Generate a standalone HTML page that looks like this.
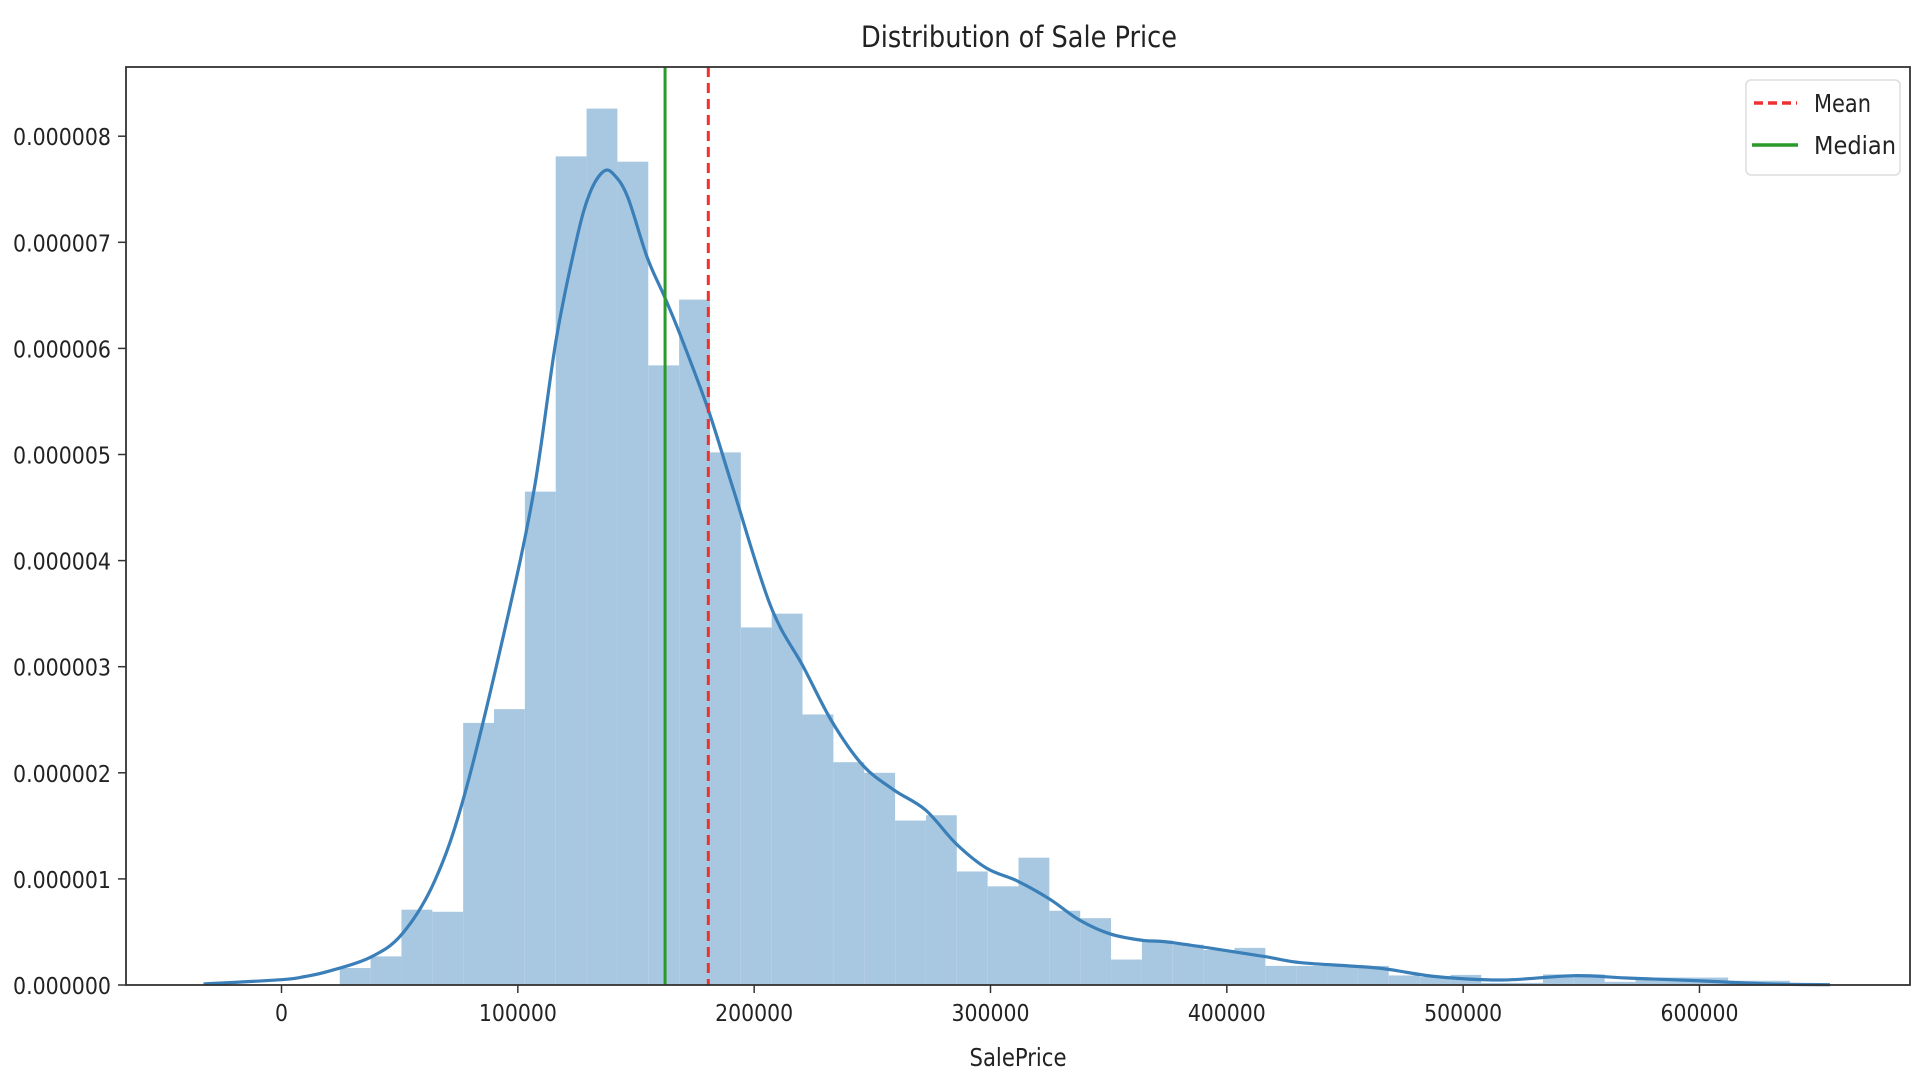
<!DOCTYPE html>
<html><head><meta charset="utf-8"><style>
html,body{margin:0;padding:0;background:#fff;}
svg{display:block;}
text{font-family:"Liberation Sans Narrow","DejaVu Sans Condensed","Liberation Sans",sans-serif;fill:#222;}
</style></head><body>
<svg id="chart" width="1920" height="1080" viewBox="0 0 1920 1080" xmlns="http://www.w3.org/2000/svg">
<rect width="1920" height="1080" fill="#fff"/>
<g id="bars"></g>
<g id="kde"></g>
<g id="refs"></g>
<g id="axes"></g>
<text x="1019" y="47" text-anchor="middle" font-size="29" textLength="316" lengthAdjust="spacingAndGlyphs">Distribution of Sale Price</text>
<text x="1018" y="1066" text-anchor="middle" font-size="25" textLength="97" lengthAdjust="spacingAndGlyphs">SalePrice</text>
<g>
<rect x="1746" y="80" width="154" height="95" rx="5" fill="#fff" stroke="#ddd" stroke-width="1.5"/>
<line x1="1754" y1="103" x2="1797" y2="103" stroke="#f03030" stroke-width="3.5" stroke-dasharray="9,5"/>
<text x="1814" y="112" font-size="25" textLength="57" lengthAdjust="spacingAndGlyphs">Mean</text>
<line x1="1752" y1="145" x2="1798" y2="145" stroke="#2a9a2a" stroke-width="3.5"/>
<text x="1814" y="154" font-size="25" textLength="82" lengthAdjust="spacingAndGlyphs">Median</text>
</g>
</svg>
<script>
const binStart = 24645;
const binWidth = 13055;
const binDensities = [0.16,0.27,0.71,0.69,2.47,2.6,4.65,7.81,8.26,7.76,5.84,6.46,5.02,3.37,3.5,2.55,2.1,2.0,1.55,1.6,1.07,0.93,1.2,0.7,0.63,0.24,0.42,0.38,0.33,0.35,0.18,0.18,0.18,0.18,0.09,0.075,0.095,0.02,0.02,0.1,0.1,0.03,0.07,0.07,0.07,0.04,0.04];
const kdeX = [-33000,0,10000,20000,37500,51000,64800,77530,95000,106900,116200,124800,130400,136400,141000,146600,154700,162000,168500,180600,191200,207000,220800,233000,246000,259000,272500,285500,298400,311400,325000,337800,350800,364600,376900,415400,431500,463800,488200,516500,546800,569000,599400,630000,655200];
const kdeY = [0.01,0.05,0.08,0.13,0.26,0.48,0.98,1.8,3.4,4.67,6.08,7.02,7.46,7.67,7.63,7.42,6.86,6.49,6.14,5.42,4.67,3.57,3.0,2.48,2.07,1.84,1.65,1.33,1.1,0.98,0.81,0.61,0.48,0.42,0.40,0.27,0.21,0.16,0.08,0.047,0.088,0.066,0.04,0.01,0.003];
const meanValue = 180600;
const medianValue = 162300;
const xTicks = [0,100000,200000,300000,400000,500000,600000];
const yTicks = [0,1,2,3,4,5,6,7,8];
const yTickLabels = ["0.000000","0.000001","0.000002","0.000003","0.000004","0.000005","0.000006","0.000007","0.000008"];

const NS = "http://www.w3.org/2000/svg";
const L=126,R=1910,T=67,B=985;
function xs(v){return 281.5 + v*0.0023633;}
function ys(d){return B - d*106.1;}
function mk(tag,attrs,parent){const e=document.createElementNS(NS,tag);for(const k in attrs)e.setAttribute(k,attrs[k]);parent.appendChild(e);return e;}

const gb=document.getElementById('bars');
binDensities.forEach((d,i)=>{
  const x0=xs(binStart+i*binWidth), x1=xs(binStart+(i+1)*binWidth);
  const r=mk('rect',{x:x0,y:ys(d),width:x1-x0,height:B-ys(d),fill:'#a8c8e1'},gb);
  
  
});
const gk=document.getElementById('kde');
const pts=kdeX.map((x,i)=>[xs(x),ys(kdeY[i])]);
let dstr='M'+pts[0][0]+','+pts[0][1];
for(let i=0;i<pts.length-1;i++){
  const p0=pts[Math.max(0,i-1)],p1=pts[i],p2=pts[i+1],p3=pts[Math.min(pts.length-1,i+2)];
  const c1=[p1[0]+(p2[0]-p0[0])/6,p1[1]+(p2[1]-p0[1])/6];
  const c2=[p2[0]-(p3[0]-p1[0])/6,p2[1]-(p3[1]-p1[1])/6];
  dstr+=' C'+c1[0]+','+c1[1]+' '+c2[0]+','+c2[1]+' '+p2[0]+','+p2[1];
}
const kp=mk('path',{d:dstr,fill:'none',stroke:'#3a7fb8','stroke-width':3.2},gk);



const gr=document.getElementById('refs');
const ml=mk('line',{x1:xs(medianValue),x2:xs(medianValue),y1:T,y2:B,stroke:'#2a9a2a','stroke-width':3},gr);


const mn=mk('line',{x1:xs(meanValue),x2:xs(meanValue),y1:T,y2:B,stroke:'#f03030','stroke-width':3,'stroke-dasharray':'10,6'},gr);



const ga=document.getElementById('axes');
const fr=mk('rect',{x:L,y:T,width:R-L,height:B-T,fill:'none',stroke:'#333','stroke-width':1.8},ga);


xTicks.forEach(v=>{
  const x=xs(v);
  mk('line',{x1:x,x2:x,y1:B,y2:B+8,stroke:'#333','stroke-width':1.5},ga);
  const s=String(v);
  const t=mk('text',{x:x,y:B+36,'text-anchor':'middle','font-size':23,textLength:s.length*13,lengthAdjust:'spacingAndGlyphs'},ga);
  t.textContent=s;
  
  
});
yTicks.forEach((v,i)=>{
  const y=ys(v);
  mk('line',{x1:L-8,x2:L,y1:y,y2:y,stroke:'#333','stroke-width':1.5},ga);
  const t=mk('text',{x:111,y:y+9,'text-anchor':'end','font-size':23,textLength:98,lengthAdjust:'spacingAndGlyphs'},ga);
  t.textContent=yTickLabels[i];
  
  
});
</script>
</body></html>
